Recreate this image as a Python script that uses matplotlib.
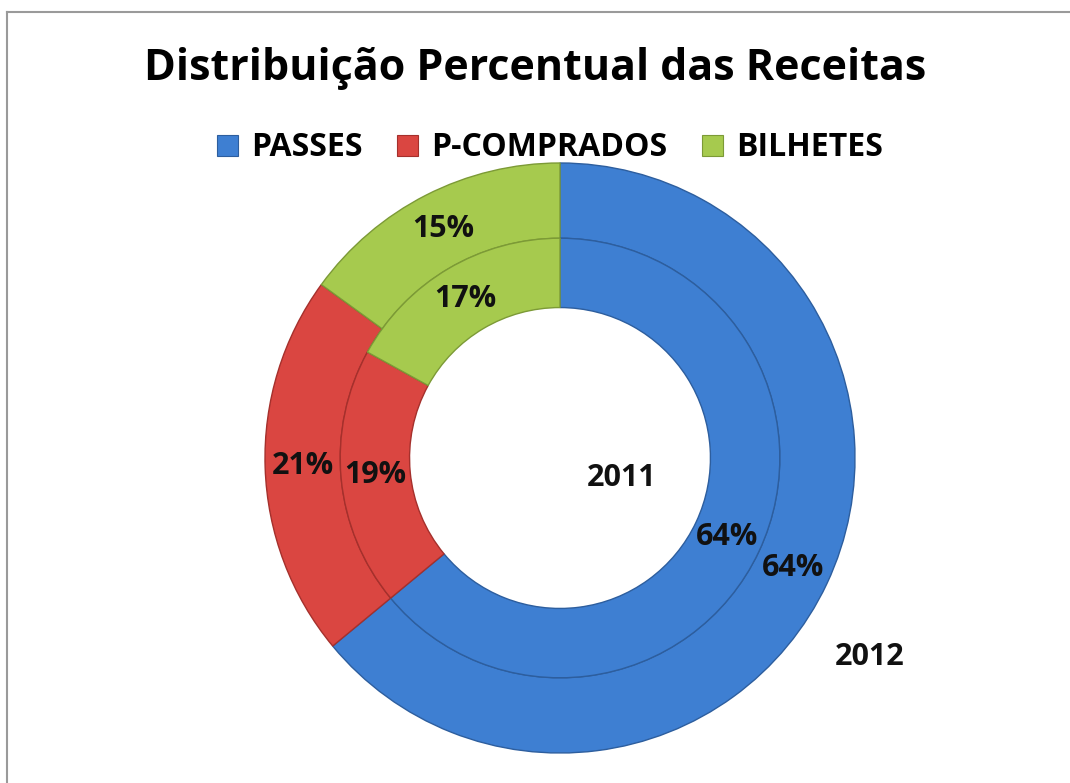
import matplotlib
matplotlib.use("Agg")
import matplotlib.pyplot as plt
from matplotlib.patches import Patch
from matplotlib.lines import Line2D

categories = ["PASSES", "P-COMPRADOS", "BILHETES"]
values_2012 = [64, 21, 15]
values_2011 = [64, 19, 17]
ring_labels = ["2011", "2012"]

colors = ["#3E7FD2", "#DA4641", "#A6CA4E"]
edges = ["#2D5E9E", "#A5302C", "#7C9A36"]

plt.rcParams['font.family'] = ['Open Sans', 'DejaVu Sans']

W, H = 1070, 783
fig = plt.figure(figsize=(W / 100, H / 100), dpi=100)
fig.patch.set_facecolor("white")

# border lines (top and left)
fig.add_artist(Line2D([7 / W, 7 / W], [0, 1 - 12 / H], transform=fig.transFigure,
                      color="#9a9a9a", lw=1.5))
fig.add_artist(Line2D([7 / W, 1], [1 - 12 / H, 1 - 12 / H], transform=fig.transFigure,
                      color="#9a9a9a", lw=1.5))

cx, cy, R = 560, 458, 295
ax = fig.add_axes([(cx - R) / W, (H - cy - R) / H, 2 * R / W, 2 * R / H])

r_out, w_out = 1.0, 0.255
r_in, w_in = 0.745, 0.235

fmt = lambda p: f"{p:.0f}%"
w1, _, t1 = ax.pie(values_2012, radius=r_out, colors=colors, startangle=90,
                   counterclock=False, autopct=fmt, pctdistance=(r_out - w_out / 2) / r_out,
                   wedgeprops=dict(width=w_out, edgecolor="white", linewidth=0))
w2, _, t2 = ax.pie(values_2011, radius=r_in, colors=colors, startangle=90,
                   counterclock=False, autopct=fmt, pctdistance=(r_in - w_in / 2) / r_in,
                   wedgeprops=dict(width=w_in, edgecolor="white", linewidth=0))
for ws in (w1, w2):
    for w, ec in zip(ws, edges):
        w.set_edgecolor(ec)
        w.set_linewidth(1.0)
for t in list(t1) + list(t2):
    t.set_fontsize(22)
    t.set_fontweight("bold")
    t.set_color("#111111")

ax.text(0.21, -0.068, ring_labels[0], ha="center", va="center", fontsize=22,
        fontweight="bold", color="#111111")
ax.text(1.05, -0.675, ring_labels[1], ha="center", va="center", fontsize=22,
        fontweight="bold", color="#111111")
ax.set_xlim(-1, 1)
ax.set_ylim(-1, 1)
ax.set_aspect("auto")
ax.axis("off")

fig.text(535 / W, 1 - 68 / H, "Distribuição Percentual das Receitas", ha="center",
         va="center", fontsize=31, fontweight="bold", color="#000000")

handles = [Patch(facecolor=c, edgecolor=e, linewidth=0.8) for c, e in zip(colors, edges)]
fig.legend(handles, categories, loc="center", bbox_to_anchor=(550 / W, 1 - 148 / H),
           ncol=3, frameon=False, prop=dict(size=23, weight="bold"),
           handlelength=0.65, handleheight=0.65, handletextpad=0.4, columnspacing=1.1)

fig.savefig("out.png", dpi=100, facecolor="white")
